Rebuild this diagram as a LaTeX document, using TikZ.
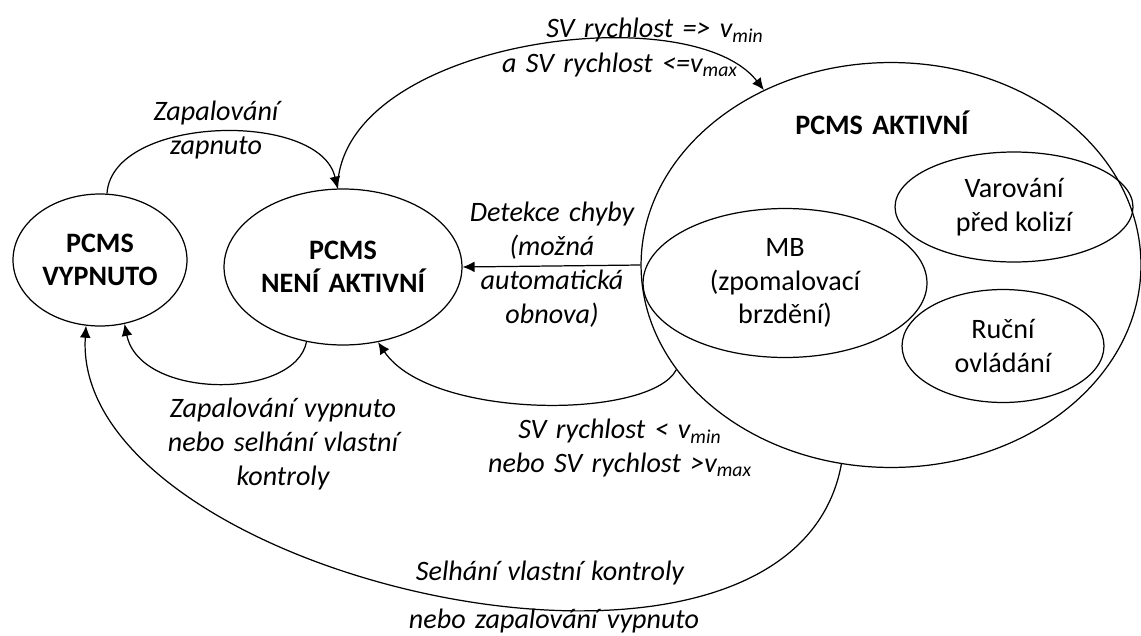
\documentclass[tikz,border=0pt]{standalone}
\usepackage{fontspec}
\setmainfont{Carlito}
\usetikzlibrary{shapes.geometric,arrows.meta}
\newcommand{\vsb}[1]{v\textsubscript{#1}}
\newcommand{\widesp}{\spaceskip=0.33em plus 0.1em\relax}

\begin{document}
\begin{tikzpicture}[x=0.02cm,y=-0.02cm,
   state/.style={ellipse,draw,line width=0.7pt,inner sep=0pt,align=center,
      font=\fontsize{16}{19.3}\selectfont},
   bstate/.style={state,font=\fontsize{16}{18.8}\selectfont\bfseries\widesp},
   lbl/.style={align=center,inner sep=0pt,
      font=\fontsize{16}{19.3}\selectfont\itshape\widesp},
   trans/.style={line width=0.7pt,-{Latex[length=6.8pt,width=6.2pt]}}]
   \useasboundingbox (0,0) rectangle (1141,635);
   \node[bstate,minimum width=3.48cm,minimum height=2.64cm] (vyp) at (100,260) {PCMS\\VYPNUTO};
   \node[bstate,minimum width=4.76cm,minimum height=3.12cm] (nen) at (343,267) {PCMS\\NENÍ AKTIVNÍ};
   \node[state,minimum width=10cm,minimum height=8.1cm] (akt) at (891,265) {};
   \node[bstate,draw=none] (akttitle) at (882,123) {PCMS AKTIVNÍ};
   \node[state,minimum width=5.68cm,minimum height=2.98cm] (mb) at (785,283) {MB\\(zpomalovací\\brzdění)};
   \node[state,minimum width=4.76cm,minimum height=2.2cm] (var) at (1014,207) {Varování\\před kolizí};
   \node[state,minimum width=4.04cm,minimum height=2.26cm] (ruc) at (1003,346) {Ruční\\ovládání};
   \draw[trans] (vyp.84) .. controls (112,115) and (320,110) .. (nen.94);
   \draw[trans] (nen.94) .. controls (340,40) and (690,-5) .. (akt.126);
   \draw[trans] (akt.west) -- (nen.east);
   \draw[trans] (nen.244) .. controls (295,400) and (140,400) .. (vyp.291);
   \draw[trans] (akt.206) .. controls (650,420) and (430,420) .. (nen.295);
   \draw[trans] (akt.256) .. controls (790,745) and (70,578) .. (vyp.258);
   \node[lbl] (lzap) at (216,130) {Zapalování\\zapnuto};
   \node[lbl] (lsv1) at (655,30) {SV rychlost => \vsb{min}};
   \node[lbl] (lsv2) at (620,65) {a SV rychlost <=\vsb{max}};
   \node[lbl] (ldet) at (552,265) {Detekce chyby\\(možná\\automatická\\obnova)};
   \node[lbl] (lvyp) at (283,444) {Zapalování vypnuto\\nebo selhání vlastní\\kontroly};
   \node[lbl] (lsv3) at (620,448) {SV rychlost < \vsb{min}\\nebo SV rychlost >\vsb{max}};
   \node[lbl] (lsel1) at (550,573) {Selhání vlastní kontroly};
   \node[lbl] (lsel2) at (554,621) {nebo zapalování vypnuto};
\end{tikzpicture}
\end{document}
